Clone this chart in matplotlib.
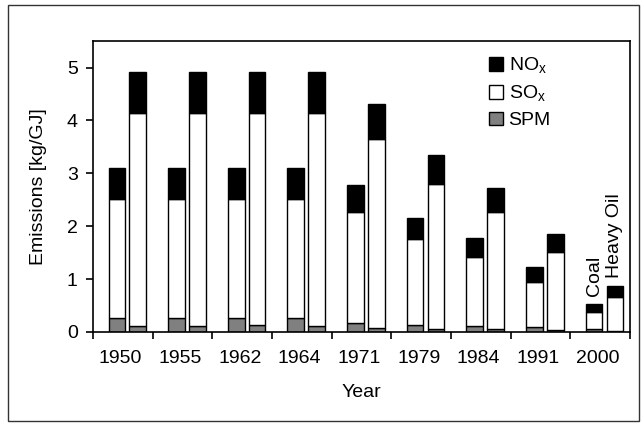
import matplotlib
matplotlib.use("Agg")
import matplotlib.pyplot as plt
from matplotlib.patches import Patch, Rectangle
import numpy as np

plt.rcParams["font.family"] = ["Liberation Sans", "DejaVu Sans"]

YEARS = ["1950", "1955", "1962", "1964", "1971", "1979", "1984", "1991", "2000"]

# coal (left bar of each pair)
COAL_SPM = [0.26, 0.26, 0.26, 0.26, 0.17, 0.14, 0.12, 0.09, 0.06]
COAL_SOX = [2.26, 2.26, 2.26, 2.26, 2.10, 1.61, 1.29, 0.86, 0.31]
COAL_NOX = [0.58, 0.58, 0.58, 0.58, 0.51, 0.41, 0.36, 0.27, 0.15]

# heavy oil (right bar of each pair)
OIL_SPM = [0.12, 0.11, 0.13, 0.11, 0.08, 0.06, 0.05, 0.04, 0.02]
OIL_SOX = [4.03, 4.03, 4.02, 4.03, 3.57, 2.74, 2.22, 1.47, 0.65]
OIL_NOX = [0.77, 0.77, 0.77, 0.77, 0.67, 0.55, 0.46, 0.35, 0.20]

GREY = "#808080"
W = 0.28
FS = 14

fig = plt.figure(figsize=(6.44, 4.24), dpi=100)
ax = fig.add_axes([0.1444, 0.217, 0.8336, 0.686])

idx = np.arange(len(YEARS))
for off, spm, sox, nox in ((0.40, COAL_SPM, COAL_SOX, COAL_NOX),
                           (0.75, OIL_SPM, OIL_SOX, OIL_NOX)):
    x = idx + off
    spm = np.array(spm)
    sox = np.array(sox)
    ax.bar(x, spm, W, color=GREY, edgecolor="black", linewidth=1)
    ax.bar(x, sox, W, bottom=spm, color="white", edgecolor="black", linewidth=1)
    ax.bar(x, nox, W, bottom=spm + sox, color="black", edgecolor="black",
           linewidth=1)

last = len(YEARS) - 1
ax.annotate("Coal", (last + 0.40, COAL_SPM[-1] + COAL_SOX[-1] + COAL_NOX[-1]),
            xytext=(0, 6), textcoords="offset points", rotation=90,
            ha="center", va="bottom", fontsize=FS)
ax.annotate("Heavy Oil", (last + 0.75, OIL_SPM[-1] + OIL_SOX[-1] + OIL_NOX[-1]),
            xytext=(0, 6), textcoords="offset points", rotation=90,
            ha="center", va="bottom", fontsize=FS)

ax.set_xlim(0, len(YEARS))
ax.set_ylim(0, 5.5)
ax.set_xticks(np.arange(len(YEARS) + 1))
ax.set_xticklabels([])
ax.set_xticks(idx + 0.46, minor=True)
ax.set_xticklabels(YEARS, minor=True, fontsize=FS)
ax.tick_params(axis="x", which="minor", length=0, pad=13)
ax.tick_params(axis="x", which="major", length=5, width=1.2, direction="out")
ax.set_yticks([0, 1, 2, 3, 4, 5])
ax.tick_params(axis="y", length=5, width=1.2, direction="out", pad=6,
               labelsize=FS)
for s in ax.spines.values():
    s.set_linewidth(1.2)

ax.set_xlabel("Year", fontsize=FS, labelpad=12)
ax.set_ylabel("Emissions [kg/GJ]", fontsize=FS, labelpad=14)

handles = [Patch(facecolor="black", edgecolor="black", label="NO$_\\mathregular{x}$"),
           Patch(facecolor="white", edgecolor="black", label="SO$_\\mathregular{x}$"),
           Patch(facecolor=GREY, edgecolor="black", label="SPM")]
ax.legend(handles=handles, loc="upper left", bbox_to_anchor=(0.738, 0.95),
          frameon=False, fontsize=FS, handlelength=0.7, handleheight=0.7,
          handletextpad=0.3, labelspacing=0.4, borderpad=0, borderaxespad=0)

fig.patches.append(Rectangle((8 / 644, 3 / 424), 631 / 644, 416 / 424,
                             transform=fig.transFigure, fill=False,
                             edgecolor="#333333", linewidth=1))

fig.savefig("out.png", dpi=100, facecolor="white")
